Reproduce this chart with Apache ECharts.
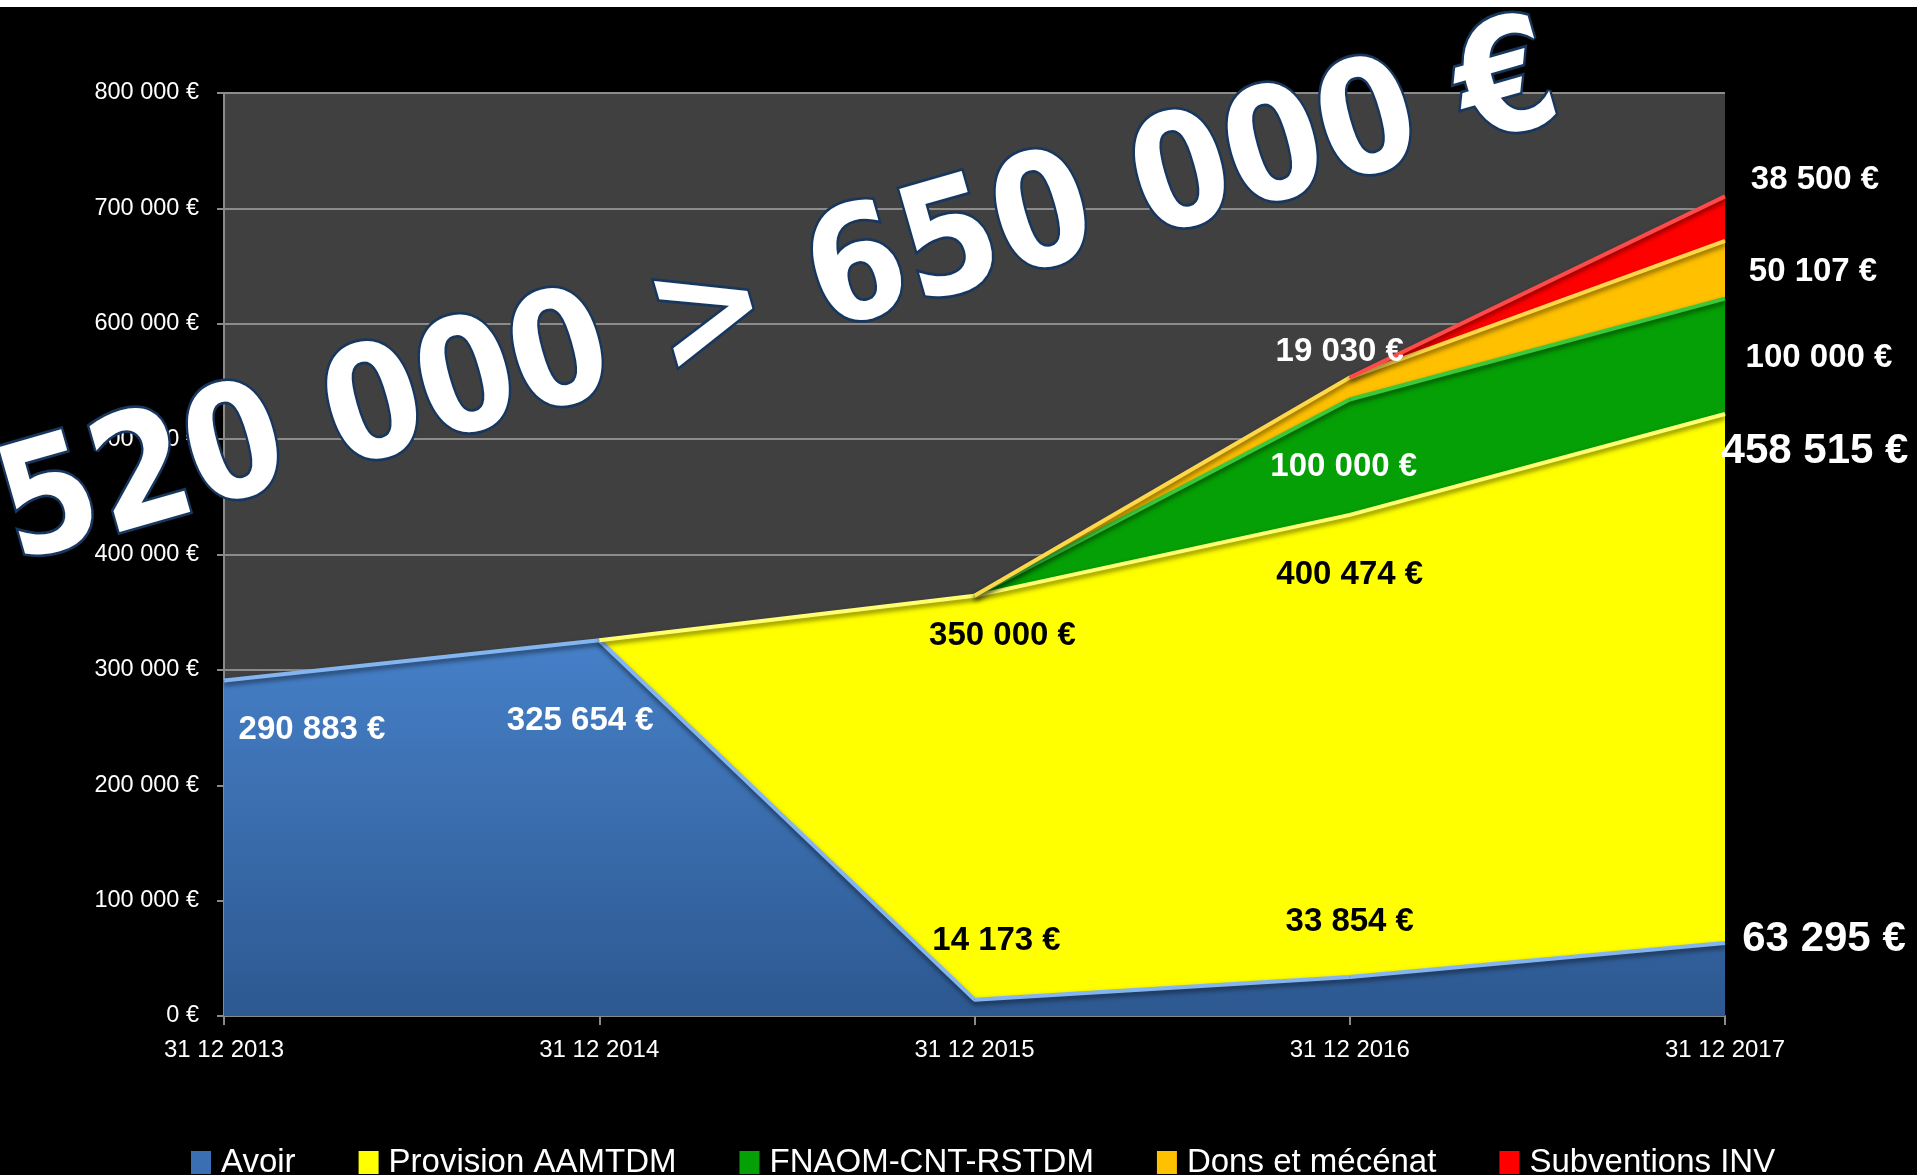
<!DOCTYPE html>
<html>
<head>
<meta charset="utf-8">
<script src="https://cdn.jsdelivr.net/npm/echarts@6/dist/echarts.min.js"></script>
<style>
html,body{margin:0;padding:0;background:#000;}
#chart{width:1917px;height:1175px;}
</style>
</head>
<body>
<div id="chart"></div>
<script>
// ---- data ----
const categories = ['31 12 2013', '31 12 2014', '31 12 2015', '31 12 2016', '31 12 2017'];
const seriesNames = ['Avoir', 'Provision AAMTDM', 'FNAOM-CNT-RSTDM', 'Dons et mécénat', 'Subventions INV'];
const avoir = [290883, 325654, 14173, 33854, 63295];
const provision = [null, 0, 350000, 400474, 458515];
const fnaom = [null, null, 0, 100000, 100000];
const dons = [null, null, 0, 19030, 50107];
const subventions = [null, null, null, 0, 38500];
const yMin = 0, yMax = 800000, yStep = 100000;
const headline = '520 000 > 650 000 €';

// ---- label placement (styling) ----
const labelCfg = [
  {0: {o: [88, 50], c: '#fff'}, 1: {o: [-19, 81], c: '#fff'}, 2: {o: [22, -59], c: '#000'}, 3: {o: [0, -55], c: '#000'}, 4: {o: [99, -4], c: '#fff', big: true}},
  {2: {o: [28, 40], c: '#000'}, 3: {o: [0, 60], c: '#000'}, 4: {o: [90, 37], c: '#fff', big: true}},
  {3: {o: [-6, 67], c: '#fff'}, 4: {o: [94, 59], c: '#fff'}},
  {3: {o: [-10, -26], c: '#fff'}, 4: {o: [88, 31], c: '#fff'}},
  {4: {o: [90, -16], c: '#fff'}}
];

function fmt(v) {
  return String(Math.round(v)).replace(/\B(?=(\d{3})+(?!\d))/g, ' ') + ' €';
}

const colors = ['#3a6fb4', '#ffff00', '#05a005', '#ffc000', '#ff0000'];
const areaFills = [
  {type: 'linear', x: 0, y: 0, x2: 0, y2: 1, colorStops: [{offset: 0, color: '#4680c8'}, {offset: 1, color: '#2d5890'}]},
  '#ffff00', '#05a005', '#ffc000', '#ff0000'
];
const lineColors = ['#85b5f0', '#ffff70', '#3cc83c', '#ffd84a', '#ff4a4a'];
const values = [avoir, provision, fnaom, dons, subventions];

const font = "'Liberation Sans', Arial, sans-serif";

const series = values.map((arr, si) => ({
  name: seriesNames[si],
  type: 'line',
  stack: 'total',
  symbol: 'circle',
  symbolSize: 1,
  showSymbol: true,
  connectNulls: false,
  itemStyle: {color: colors[si]},
  lineStyle: {color: lineColors[si], width: 4, shadowColor: 'rgba(0,0,0,0.55)', shadowBlur: 5, shadowOffsetY: 3},
  areaStyle: {color: areaFills[si], opacity: 1},
  emphasis: {disabled: true},
  data: arr.map((v, i) => {
    const c = labelCfg[si][i];
    if (v === null) return '-';
    if (!c) return {value: v};
    return {
      value: v,
      label: {
        show: true, position: 'inside', offset: c.o, align: 'center', verticalAlign: 'middle',
        color: c.c, fontFamily: font, fontWeight: 'bold', fontSize: c.big ? 42 : 33,
        formatter: p => fmt(p.value)
      }
    };
  })
}));

const chart = echarts.init(document.getElementById('chart'), null, {renderer: 'canvas'});
chart.setOption({
  backgroundColor: '#000',
  animation: false,
  grid: {left: 224, right: 192, top: 93, bottom: 159, show: true, backgroundColor: '#404040', borderWidth: 0},
  legend: {
    data: seriesNames, left: 186, top: 1141, itemWidth: 20, itemHeight: 23, itemGap: 63, icon: 'rect',
    textStyle: {color: '#fff', fontSize: 33, fontFamily: font, padding: [0, 0, 0, 5]},
    selectedMode: false
  },
  xAxis: {
    type: 'category', data: categories, boundaryGap: false,
    axisLine: {lineStyle: {color: '#8a8a8a', width: 2}},
    axisTick: {show: true, length: 9, lineStyle: {color: '#8a8a8a', width: 2}},
    axisLabel: {color: '#fff', fontSize: 24, fontFamily: font, margin: 22},
    splitLine: {show: false}
  },
  yAxis: {
    type: 'value', min: yMin, max: yMax, interval: yStep,
    axisLine: {show: true, lineStyle: {color: '#8a8a8a', width: 2}},
    axisTick: {show: true, length: 7, lineStyle: {color: '#8a8a8a', width: 2}},
    axisLabel: {color: '#fff', fontSize: 23.5, fontFamily: font, margin: 25, formatter: v => fmt(v)},
    splitLine: {show: true, lineStyle: {color: '#8c8c8c', width: 2}}
  },
  series: series,
  graphic: [
    {type: 'rect', left: 0, top: 0, z: -1, shape: {width: 1917, height: 7}, style: {fill: '#fff'}},
    {
      type: 'text', x: 780, y: 300, rotation: 16 * Math.PI / 180, scaleX: 0.97, scaleY: 1.1, z: 100,
      style: {
        x: 0, y: 0, text: headline, align: 'center', verticalAlign: 'middle',
        fill: '#fff', font: "bold 143px 'DejaVu Sans', Verdana, sans-serif",
        stroke: '#17375e', lineWidth: 5,
        shadowColor: 'rgba(70,120,190,0.95)', shadowBlur: 12
      }
    }
  ]
});
</script>
</body>
</html>
